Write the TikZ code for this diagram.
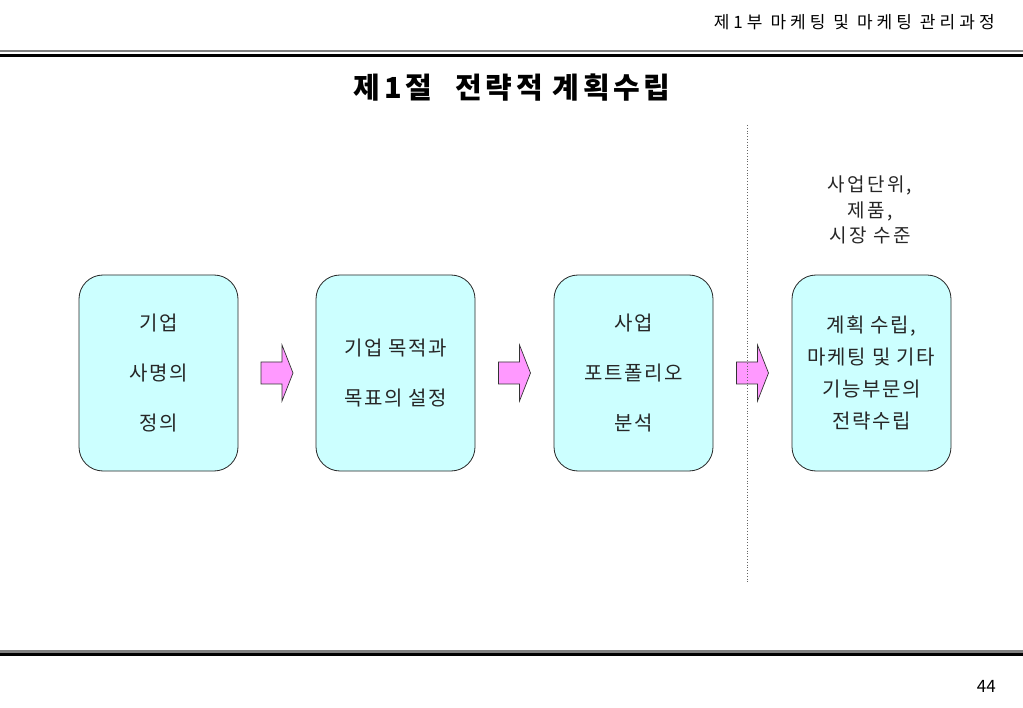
\documentclass[tikz,border=0pt]{standalone}
\usepackage{fontspec}
\usetikzlibrary{calc}
\setmainfont{Noto Sans CJK KR}
\newfontfamily\hdrfont[LetterSpace=24]{Noto Sans CJK KR}
\newfontfamily\titlefont[LetterSpace=12]{Noto Sans CJK KR}
\newfontfamily\boxfont[LetterSpace=8]{Noto Sans CJK KR}
\newfontfamily\lvlfont[LetterSpace=12]{Noto Sans CJK KR}
\begin{document}
\begin{tikzpicture}[x=1pt,y=-1pt,
  stagebox/.style={draw=black!85, line width=0.8pt, fill=boxcyan, rounded corners=24pt,
    minimum width=159pt, minimum height=196pt, inner sep=0pt, align=center,
    text=black!85},
  blockarrow/.pic={\path[draw=black!80, line width=0.7pt, fill=arrowpink]
    (-16,-11) -- (5,-11) -- (5,-28) -- (16,0) -- (5,28) -- (5,11) -- (-16,11) -- cycle;},
  ]
\definecolor{boxcyan}{HTML}{CCFFFF}
\definecolor{arrowpink}{HTML}{FF99FF}
\useasboundingbox[fill=white] (0,0) rectangle (1023,708);
% header
\node[anchor=east, inner sep=0pt, font=\hdrfont\fontsize{17}{20}\selectfont] (hdr) at (995,22) {제1부 마케팅 및 마케팅 관리과정};
\draw[line width=2.5pt, black!50] (0,51) -- (1023,51);
\draw[line width=3pt, black] (0,56) -- (1023,56);
% title
\node[inner sep=0pt, font=\titlefont\fontsize{29}{32}\selectfont\bfseries] (title) at (512,88) {제1절\hspace{24pt}전략적 계획수립};
% boxes
\node[stagebox, font=\boxfont\fontsize{20}{50}\selectfont] (b1) at (158.5,373) {기업\\사명의\\정의};
\node[stagebox, font=\boxfont\fontsize{20}{50}\selectfont] (b2) at (395.5,373) {기업 목적과\\목표의 설정};
\node[stagebox, font=\boxfont\fontsize{20}{50}\selectfont] (b3) at (633.5,373) {사업\\포트폴리오\\분석};
\node[stagebox, font=\boxfont\fontsize{20}{32}\selectfont] (b4) at (871.5,373) {계획 수립,\\마케팅 및 기타\\기능부문의\\전략수립};
% arrows
\pic at ($(b1.east)!0.5!(b2.west)$) {blockarrow};
\pic at ($(b2.east)!0.5!(b3.west)$) {blockarrow};
\pic at ($(b3.east)!0.5!(b4.west)$) {blockarrow};
% divider
\coordinate (dtop) at (747,125);
\coordinate (dbot) at (747,582);
\draw[black!60, line width=0.8pt, dotted] (dtop) -- (dbot);
% level label
\node[align=center, inner sep=0pt, text=black!85, font=\lvlfont\fontsize{19}{25.5}\selectfont] (lvl) at (870,210) {사업단위,\\제품,\\시장 수준};
% footer
\draw[line width=3pt, black!50] (0,651) -- (1023,651);
\draw[line width=3pt, black] (0,654.5) -- (1023,654.5);
\node[anchor=east, inner sep=0pt, font=\fontsize{17}{20}\selectfont] (pg) at (996,686) {44};
\end{tikzpicture}
\end{document}
